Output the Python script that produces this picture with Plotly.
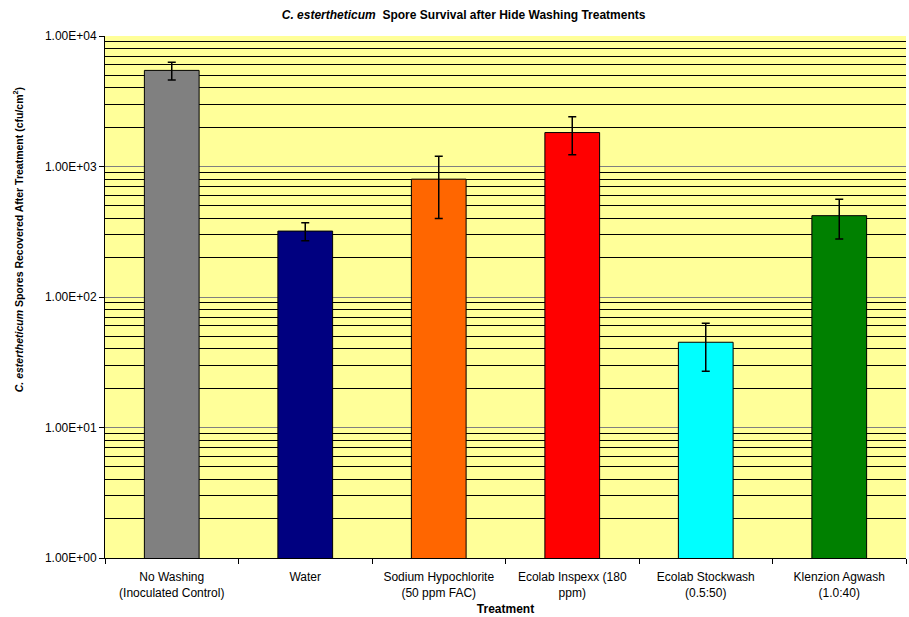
import plotly.graph_objects as go

# Treatment groups and recovered spore counts (cfu/cm2) with their error values
treatments = [
    "No Washing<br>(Inoculated Control)",
    "Water",
    "Sodium Hypochlorite<br>(50 ppm FAC)",
    "Ecolab Inspexx (180<br>ppm)",
    "Ecolab Stockwash<br>(0.5:50)",
    "Klenzion Agwash<br>(1.0:40)",
]
spores = [5450, 320, 800, 1820, 45, 420]
spore_err = [840, 50, 400, 590, 18, 142]
bar_colors = ["#808080", "#000080", "#FF6600", "#FF0000", "#00FFFF", "#008000"]

y_tick_vals = [1, 10, 100, 1000, 10000]
y_tick_text = ["1.00E+00", "1.00E+01", "1.00E+02", "1.00E+03", "1.00E+04"]

FONT = "Liberation Sans, Arial, sans-serif"

fig = go.Figure(
    go.Bar(
        x=treatments,
        y=spores,
        marker=dict(color=bar_colors, line=dict(color="black", width=1)),
        error_y=dict(type="data", array=spore_err, color="black",
                     thickness=1.5, width=4),
    )
)

fig.update_layout(
    width=909,
    height=617,
    margin=dict(l=105, r=3, t=36, b=59),
    paper_bgcolor="white",
    plot_bgcolor="#FFFF99",
    bargap=0.59,
    showlegend=False,
    font=dict(family=FONT, size=12, color="black"),
    title=dict(
        text="<b><i>C. estertheticum</i>  Spore Survival after Hide Washing Treatments</b>",
        x=0.51, xanchor="center", y=0.976, yanchor="middle",
        font=dict(family=FONT, size=12, color="black"),
    ),
)

fig.update_xaxes(
    showline=True, linecolor="black", linewidth=1,
    ticks="outside", tickson="boundaries", ticklen=5, tickcolor="black",
    ticklabelstandoff=8,
    showgrid=False,
    tickfont=dict(size=12),
    title=dict(text="<b>Treatment</b>", font=dict(size=12), standoff=5),
    automargin=False,
)

fig.update_yaxes(
    type="log", range=[0, 4],
    tickmode="array", tickvals=y_tick_vals, ticktext=y_tick_text,
    showline=True, linecolor="black", linewidth=1,
    ticks="outside", ticklen=5, tickcolor="black",
    showgrid=True, gridcolor="#808080", gridwidth=1,
    tickfont=dict(size=12),
    minor=dict(dtick="D1", showgrid=True, gridcolor="black", gridwidth=1, ticks=""),
    zeroline=False,
)

# Vertical axis title
fig.add_annotation(
    text="<b><i>C. estertheticum</i> Spores Recovered After Treatment (cfu/cm<sup>2</sup>)</b>",
    xref="paper", yref="paper", x=-0.109, y=0.61,
    xanchor="center", yanchor="middle", textangle=-90, showarrow=False,
    font=dict(family=FONT, size=10.5, color="black"),
)

fig.write_html("out.html")
